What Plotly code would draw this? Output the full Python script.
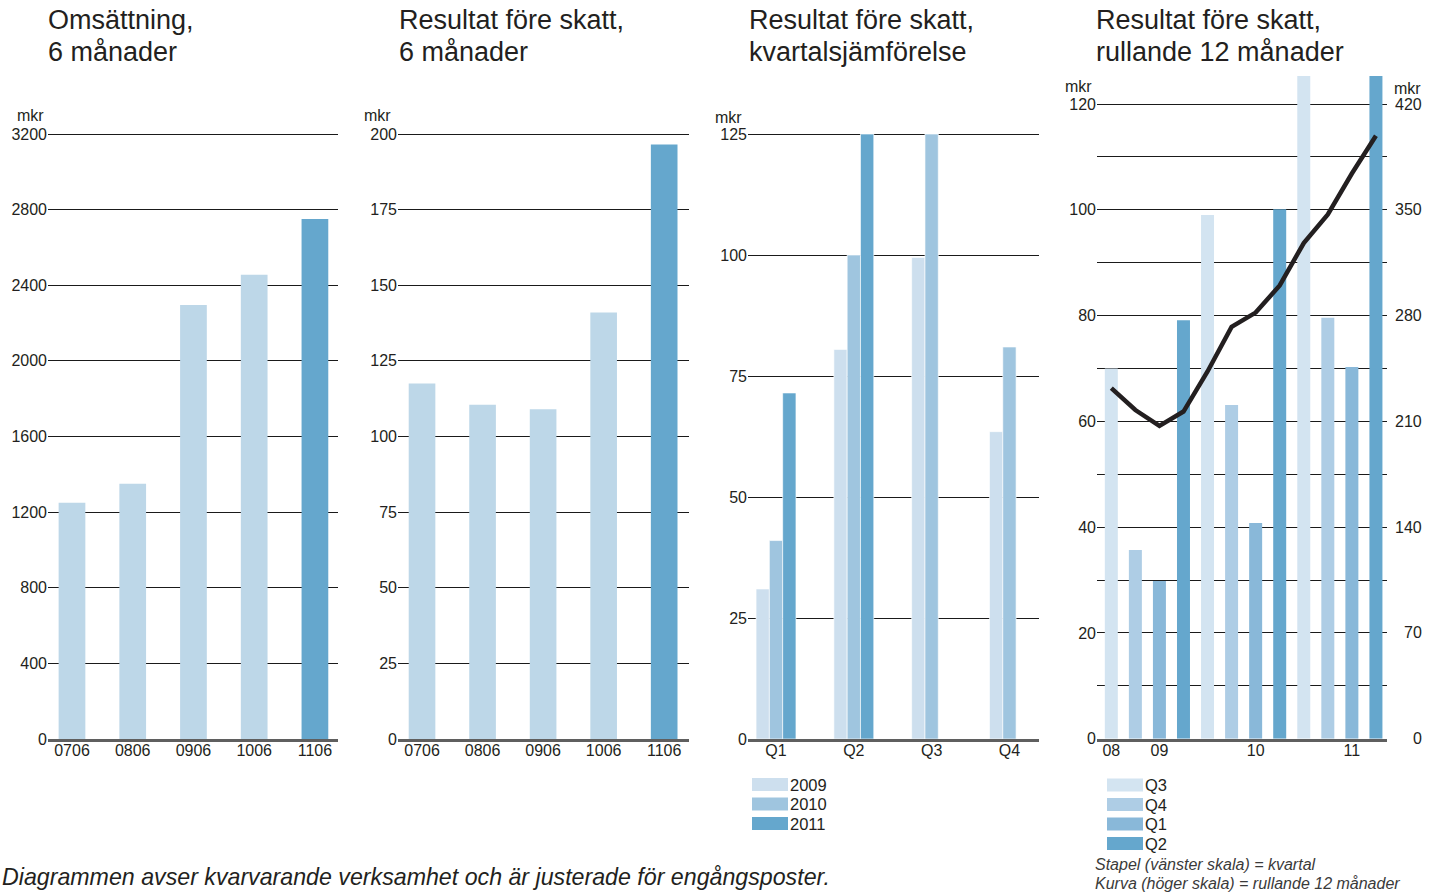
import plotly.graph_objects as go

W, H = 1438, 895

# ---------------- data ----------------
half_years = ["0706", "0806", "0906", "1006", "1106"]
omsattning = [1250, 1350, 2295, 2455, 2750]
resultat_6m = [117.5, 110.5, 109, 141, 196.5]

quarters = ["Q1", "Q2", "Q3", "Q4"]
res_2009 = [31, 80.5, 99.5, 63.5]
res_2010 = [41, 100, 125, 81]
res_2011 = [71.5, 125, None, None]
years = ["2009", "2010", "2011"]

periods = ["08Q3", "08Q4", "09Q1", "09Q2", "09Q3", "09Q4",
           "10Q1", "10Q2", "10Q3", "10Q4", "11Q1", "11Q2"]
period_q = ["Q3", "Q4", "Q1", "Q2", "Q3", "Q4", "Q1", "Q2", "Q3", "Q4", "Q1", "Q2"]
quarter_bars = [70, 35.7, 29.8, 79.1, 99, 63.1, 40.8, 100.1, 127, 79.6, 70.3, 128]
rolling_12m = [232, 217.5, 207, 216.5, 243, 272.5, 282, 300, 328, 347, 374, 399]
year_ticks = ["08Q3", "09Q1", "10Q1", "11Q1"]
year_labels = ["08", "09", "10", "11"]

# ---------------- style ----------------
FONT = "Liberation Sans, Arial, sans-serif"
TXT = "#231f20"
LIGHT = "#bdd7e8"
DARK = "#65a7cd"
YEAR_COL = {"2009": "#cddfee", "2010": "#9fc5df", "2011": "#65a7cd"}
Q_COL = {"Q3": "#d3e4f1", "Q4": "#aecde5", "Q1": "#89b8d9", "Q2": "#65a7cd"}


def px(x):
    return x / W


def py(y):
    return 1 - y / H


fig = go.Figure()

# panel 1
fig.add_bar(x=half_years, y=omsattning, width=0.44,
            marker=dict(color=[LIGHT] * 4 + [DARK], line=dict(width=0)),
            xaxis="x", yaxis="y", showlegend=False)
# panel 2
fig.add_bar(x=half_years, y=resultat_6m, width=0.44,
            marker=dict(color=[LIGHT] * 4 + [DARK], line=dict(width=0)),
            xaxis="x2", yaxis="y2", showlegend=False)
# panel 3
bw = 0.171
for i, (yr, vals) in enumerate(zip(years, [res_2009, res_2010, res_2011])):
    fig.add_bar(x=quarters, y=vals, width=bw, offset=-1.5 * bw + i * bw,
                marker=dict(color=YEAR_COL[yr], line=dict(width=0.8, color="rgba(255,255,255,0.8)")),
                xaxis="x3", yaxis="y3", showlegend=False)
# panel 4
fig.add_bar(x=periods, y=quarter_bars, width=0.54,
            marker=dict(color=[Q_COL[q] for q in period_q], line=dict(width=0)),
            xaxis="x4", yaxis="y4", showlegend=False)
fig.add_scatter(x=periods, y=rolling_12m, mode="lines",
                line=dict(color=TXT, width=4.5),
                xaxis="x4", yaxis="y5", showlegend=False)

tickfont = dict(family=FONT, size=16, color=TXT)
# domain top set a little above the top gridline so that it is drawn
Y0, YTOP_GRID, YTOP_DOM = 739, 134, 130
ybot, ytop = py(Y0), py(YTOP_DOM)
ext = (Y0 - YTOP_DOM) / (Y0 - YTOP_GRID)
ybot4, ytop4 = py(738.7), py(76)


def xax(dom, rng, anchor, **kw):
    d = dict(domain=[px(dom[0]), px(dom[1])], range=rng, anchor=anchor,
             showgrid=False, zeroline=False, showline=True, linecolor="#5f5f5f",
             linewidth=2.5, ticks="", tickfont=tickfont, fixedrange=True,
             ticklabelstandoff=-5)
    d.update(kw)
    return d


def yax(dom, rng, anchor, dtick, **kw):
    d = dict(domain=list(dom), range=rng, anchor=anchor, dtick=dtick,
             showgrid=True, gridcolor="#1a1a1a", gridwidth=1.1, zeroline=False,
             showline=False, ticks="", tickfont=tickfont, fixedrange=True)
    d.update(kw)
    return d


fig.update_layout(
    width=W, height=H, margin=dict(l=0, r=0, t=0, b=0, autoexpand=False),
    paper_bgcolor="white", plot_bgcolor="white",
    barmode="overlay",
    font=dict(family=FONT, color=TXT),
    xaxis=xax((48, 338), [-0.395, 4.38], "y"),
    yaxis=yax((ybot, ytop), [0, 3200 * ext], "x", 400),
    xaxis2=xax((398, 689), [-0.397, 4.41], "y2"),
    yaxis2=yax((ybot, ytop), [0, 200 * ext], "x2", 25),
    xaxis3=xax((748, 1039), [-0.36, 3.38], "y3"),
    yaxis3=yax((ybot, ytop), [0, 125 * ext], "x3", 25),
    xaxis4=xax((1097, 1387), [-0.595, 11.46], "y4",
               tickmode="array", tickvals=year_ticks, ticktext=year_labels),
    yaxis4=yax((ybot4, ytop4), [0, 125.3], "x4", 20,
               minor=dict(dtick=10, showgrid=True, gridcolor="#1a1a1a", gridwidth=1)),
    yaxis5=dict(domain=[ybot4, ytop4], range=[0, 125.3 * 3.5], anchor="x4",
                overlaying="y4", side="right", showgrid=False, zeroline=False,
                showticklabels=False, ticks="", fixedrange=True),
)

ann = []
title_font = dict(family=FONT, size=27, color=TXT)
titles = [
    (48, "Omsättning,", "6 månader"),
    (399, "Resultat före skatt,", "6 månader"),
    (749, "Resultat före skatt,", "kvartalsjämförelse"),
    (1096, "Resultat före skatt,", "rullande 12 månader"),
]
for x, t1, t2 in titles:
    for yy, t in [(20, t1), (52, t2)]:
        ann.append(dict(text=t, x=px(x - 2), y=py(yy), xref="paper", yref="paper",
                        xanchor="left", yanchor="middle", showarrow=False,
                        align="left", font=title_font))

for x, y in [(46, 115), (393, 115), (744, 117), (1094, 87), (1423, 88)]:
    ann.append(dict(text="mkr", x=px(x), y=py(y), xref="paper", yref="paper",
                    xanchor="right", yanchor="middle", showarrow=False,
                    font=dict(family=FONT, size=16, color=TXT)))

# right-hand scale labels
for v in range(0, 421, 70):
    ann.append(dict(text=str(v), x=px(1424), y=v, xref="paper", yref="y5",
                    xanchor="right", yanchor="middle", showarrow=False,
                    font=dict(family=FONT, size=16, color=TXT)))

shapes = []
# legend panel 3
for i, yr in enumerate(years):
    y0 = 778 + i * 19.5
    shapes.append(dict(type="rect", xref="paper", yref="paper",
                       x0=px(752), x1=px(788), y0=py(y0), y1=py(y0 + 13),
                       fillcolor=YEAR_COL[yr], line=dict(width=0)))
    ann.append(dict(text=yr, x=px(788), y=py(y0 + 6.5), xref="paper", yref="paper",
                    xanchor="left", yanchor="middle", showarrow=False,
                    font=dict(family=FONT, size=16.5, color=TXT)))
# legend panel 4
for i, q in enumerate(["Q3", "Q4", "Q1", "Q2"]):
    y0 = 778.5 + i * 19.5
    shapes.append(dict(type="rect", xref="paper", yref="paper",
                       x0=px(1107), x1=px(1143), y0=py(y0), y1=py(y0 + 13),
                       fillcolor=Q_COL[q], line=dict(width=0)))
    ann.append(dict(text=q, x=px(1143), y=py(y0 + 6.5), xref="paper", yref="paper",
                    xanchor="left", yanchor="middle", showarrow=False,
                    font=dict(family=FONT, size=16.5, color=TXT)))

for y, t in [(864, "Stapel (vänster skala) = kvartal"),
             (883, "Kurva (höger skala) = rullande 12 månader")]:
    ann.append(dict(text=f"<i>{t}</i>", x=px(1093), y=py(y), xref="paper", yref="paper",
                    xanchor="left", yanchor="middle", showarrow=False,
                    font=dict(family=FONT, size=16, color="#3a3a3a")))

ann.append(dict(text="<i>Diagrammen avser kvarvarande verksamhet och är justerade för engångsposter.</i>",
                x=0, y=py(877), xref="paper", yref="paper",
                xanchor="left", yanchor="middle", showarrow=False,
                font=dict(family=FONT, size=23.2, color=TXT)))

fig.update_layout(annotations=ann, shapes=shapes)
fig.write_html("out.html")
